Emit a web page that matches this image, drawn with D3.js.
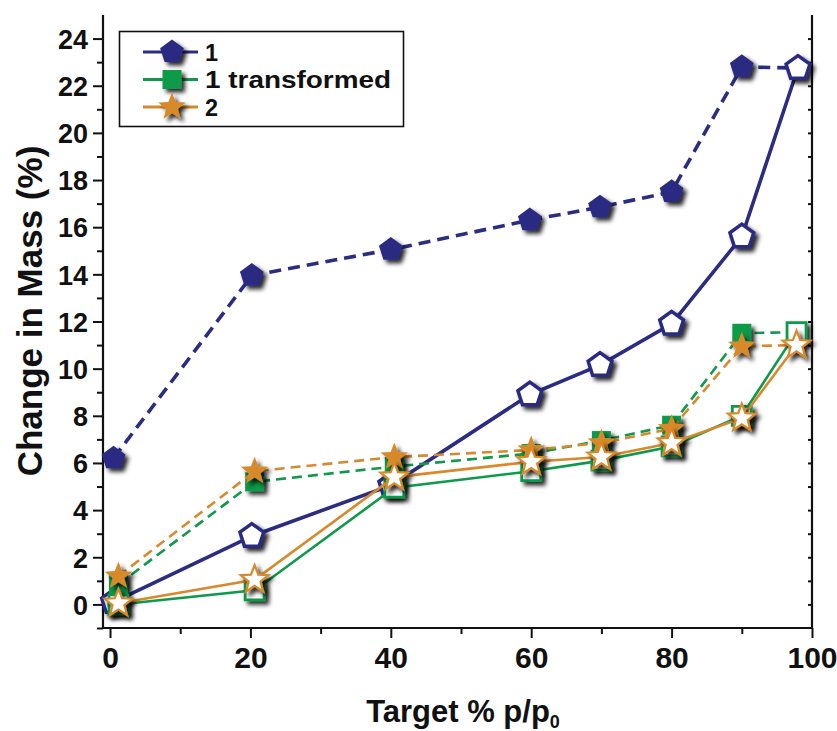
<!DOCTYPE html>
<html>
<head>
<meta charset="utf-8">
<script src="https://cdn.jsdelivr.net/npm/d3@7"></script>
<style>
  html, body { margin: 0; padding: 0; background: #fff; }
  svg text { font-family: "Liberation Sans", Arial, sans-serif; font-weight: bold; fill: #111; }
</style>
</head>
<body>
<svg id="chart" width="837" height="731"></svg>
<script>
// Target relative pressure (% p/p0) at which each sample was measured
const xSeries1 = [0.5, 20.2, 40, 59.8, 69.8, 80, 90, 98];
const xSeries23 = [1.2, 20.6, 40.5, 60, 70, 80, 90, 97.8];

// Change in mass (%) – sorption branch (open markers, solid line)
const sorb1 = [0.1, 2.9, 5.05, 8.9, 10.15, 11.9, 15.6, 22.75];
const sorb1t = [0.0, 0.6, 4.95, 5.65, 6.1, 6.7, 8.0, 11.55];
const sorb2 = [0.05, 1.05, 5.4, 6.05, 6.25, 6.85, 7.9, 11.0];

// Change in mass (%) – desorption branch (filled markers, dashed line),
// starting from the highest-pressure sorption point
const desorb1 = [6.2, 13.95, 15.05, 16.3, 16.85, 17.5, 22.8];
const desorb1t = [0.85, 5.2, 5.85, 6.4, 6.95, 7.6, 11.5];
const desorb2 = [1.2, 5.65, 6.25, 6.55, 6.85, 7.45, 10.95];

const seriesNames = ["1", "1 transformed", "2"];
const seriesColors = ["#2b2c82", "#0e9a4a", "#d8892c"];
const seriesShapes = ["pentagon", "square", "star"];

const xTicks = [0, 20, 40, 60, 80, 100];
const yTicks = [0, 2, 4, 6, 8, 10, 12, 14, 16, 18, 20, 22, 24];

const svg = d3.select("#chart");
const defs = svg.append("defs");
const shadow = defs.append("filter").attr("id", "shadow")
  .attr("x", "-60%").attr("y", "-60%").attr("width", "240%").attr("height", "240%");
shadow.append("feDropShadow").attr("dx", 3.5).attr("dy", 3.5)
  .attr("stdDeviation", 2.2).attr("flood-color", "#000").attr("flood-opacity", 0.85);

const plotLeft = 103, plotRight = 812, plotTop = 15, plotBottom = 628;
const x = d3.scaleLinear().domain([-1, 100]).range([plotLeft, plotRight]);
const y = d3.scaleLinear().domain([-1, 25]).range([plotBottom, plotTop]);

// marker geometry
function polygon(n, r, rot) {
  const pts = d3.range(n).map(i => {
    const a = rot + i * 2 * Math.PI / n;
    return [r * Math.sin(a), -r * Math.cos(a)];
  });
  return "M" + pts.map(p => p.join(",")).join("L") + "Z";
}
function star(ro, ri) {
  const pts = d3.range(10).map(i => {
    const a = i * Math.PI / 5;
    const r = i % 2 ? ri : ro;
    return [r * Math.sin(a), -r * Math.cos(a)];
  });
  return "M" + pts.map(p => p.join(",")).join("L") + "Z";
}
const shapePath = {
  pentagon: polygon(5, 12.5, 0),
  square: "M-9.5,-9.5H9.5V9.5H-9.5Z",
  star: star(14.5, 6.2)
};
const openStroke = { pentagon: 3.5, square: 2.8, star: 2.2 };

// axes
const axisG = svg.append("g");
const yAxis = axisG.append("g").attr("transform", `translate(${plotLeft},0)`)
  .call(d3.axisLeft(y).tickValues(yTicks).tickSize(10).tickFormat(d3.format("d")).tickPadding(5));
axisG.append("g").attr("transform", `translate(${plotLeft},0)`)
  .call(d3.axisLeft(y).tickValues(d3.range(-1, 25, 2)).tickSize(6).tickFormat(""));
const xAxis = axisG.append("g").attr("transform", `translate(0,${plotBottom})`)
  .call(d3.axisBottom(x).tickValues(xTicks).tickSize(10).tickFormat(d3.format("d")).tickPadding(7));
axisG.append("g").attr("transform", `translate(0,${plotBottom})`)
  .call(d3.axisBottom(x).tickValues([10, 30, 50, 70, 90]).tickSize(6).tickFormat(""));
axisG.append("g").attr("transform", `translate(${plotRight},0)`)
  .call(d3.axisLeft(y).tickValues(d3.range(0, 25, 1)).tickSize(4).tickFormat(""));
axisG.selectAll(".tick line").attr("stroke", "#111").attr("stroke-width", 2);
// plain axis lines without end caps
axisG.selectAll(".domain").remove();
axisG.append("line").attr("x1", plotLeft).attr("x2", plotLeft).attr("y1", plotTop).attr("y2", plotBottom + 1)
  .attr("stroke", "#111").attr("stroke-width", 2.2);
axisG.append("line").attr("x1", plotLeft - 1).attr("x2", plotRight + 1).attr("y1", plotBottom).attr("y2", plotBottom)
  .attr("stroke", "#111").attr("stroke-width", 2.2);
axisG.append("line").attr("x1", plotRight).attr("x2", plotRight).attr("y1", plotTop).attr("y2", plotBottom)
  .attr("stroke", "#111").attr("stroke-width", 2.2);

yAxis.selectAll(".tick text").style("font-size", "27px").attr("dy", "0.36em");
xAxis.selectAll(".tick text").style("font-size", "30px").attr("dy", "0.78em");

// axis titles
svg.append("text").attr("transform", `translate(42,311) rotate(-90)`)
  .attr("text-anchor", "middle").style("font-size", "35px").text("Change in Mass (%)");
const xt = svg.append("text").attr("x", 463).attr("y", 722).attr("text-anchor", "middle")
  .style("font-size", "31px");
xt.append("tspan").text("Target % p/p");
xt.append("tspan").attr("dy", 6).style("font-size", "18px").text("0");

// series
const line = d3.line().x(d => x(d[0])).y(d => y(d[1]));
const sets = [
  { xs: xSeries1, sorb: sorb1, desorb: desorb1 },
  { xs: xSeries23, sorb: sorb1t, desorb: desorb1t },
  { xs: xSeries23, sorb: sorb2, desorb: desorb2 }
];
const lineWidth = [3.6, 2.6, 2.6];
const dash = ["12,7", "10,6", "10,6"];

sets.forEach((s, i) => {
  const g = svg.append("g");
  const color = seriesColors[i];
  const sorbPts = s.xs.map((xv, k) => [xv, s.sorb[k]]);
  const desorbPts = s.desorb.map((v, k) => [s.xs[k], v]);
  const desorbPath = desorbPts.concat([sorbPts[sorbPts.length - 1]]);
  g.append("path").attr("d", line(desorbPath)).attr("fill", "none")
    .attr("stroke", color).attr("stroke-width", lineWidth[i]).attr("stroke-dasharray", dash[i]);
  g.append("path").attr("d", line(sorbPts)).attr("fill", "none")
    .attr("stroke", color).attr("stroke-width", lineWidth[i]);
  const shape = shapePath[seriesShapes[i]];
  g.selectAll(".filled").data(desorbPts).join("path")
    .attr("d", shape).attr("transform", d => `translate(${x(d[0])},${y(d[1])})`)
    .attr("fill", color).attr("filter", "url(#shadow)");
  g.selectAll(".open").data(sorbPts).join("path")
    .attr("d", shape).attr("transform", d => `translate(${x(d[0])},${y(d[1])})`)
    .attr("fill", "#fff").attr("stroke", color).attr("stroke-width", openStroke[seriesShapes[i]])
    .attr("stroke-linejoin", "miter").attr("filter", "url(#shadow)");
});

// legend
const lg = svg.append("g");
lg.append("rect").attr("x", 119.5).attr("y", 31.5).attr("width", 284).attr("height", 95)
  .attr("fill", "#fff").attr("stroke", "#111").attr("stroke-width", 1.6);
seriesNames.forEach((name, i) => {
  const cy = 52 + i * 27.5;
  lg.append("line").attr("x1", 143).attr("x2", 198).attr("y1", cy).attr("y2", cy)
    .attr("stroke", seriesColors[i]).attr("stroke-width", 3);
  lg.append("path").attr("d", shapePath[seriesShapes[i]])
    .attr("transform", `translate(172,${cy})`).attr("fill", seriesColors[i]).attr("filter", "url(#shadow)");
  lg.append("text").attr("x", 205).attr("y", cy + 8.5).style("font-size", "23.5px")
    .attr("textLength", name.length > 1 ? 186 : null).attr("lengthAdjust", "spacingAndGlyphs")
    .text(name);
});
</script>
</body>
</html>
